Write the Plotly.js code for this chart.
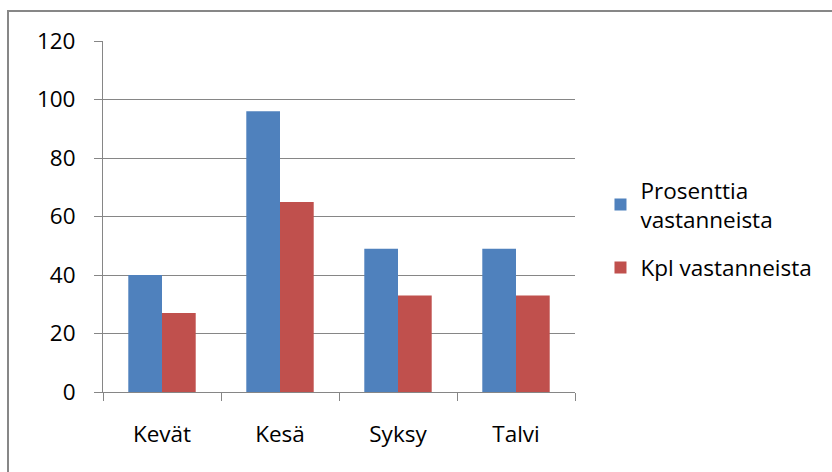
<!DOCTYPE html>
<html>
<head>
<meta charset="utf-8">
<script src="https://cdn.plot.ly/plotly-3.0.1.min.js"></script>
<style>
  html, body { margin: 0; padding: 0; background: #fff; overflow: hidden; }
  #chart { position: absolute; left: 0; top: 0; width: 832px; height: 472px; }
  /* chart-area frame, running off the right and bottom edges */
  #frame { position: absolute; left: 7px; top: 10px; width: 840px; height: 480px;
           border: 2px solid #878787; pointer-events: none; }
</style>
</head>
<body>
<div id="chart"></div>
<div id="frame"></div>
<script>
// Seasons and survey answers
const seasons = ['Kevät', 'Kesä', 'Syksy', 'Talvi'];
const percentOfRespondents = [40, 96, 49, 49];
const countOfRespondents = [27, 65, 33, 33];
const seriesNames = ['Prosenttia<br>vastanneista', 'Kpl vastanneista'];
const yTicks = [0, 20, 40, 60, 80, 100, 120];

const FONT = 'Open Sans, Noto Sans, sans-serif';
const FONT_SIZE = 22.5;
const GRID = '#868686';

const traces = [
  {
    type: 'bar', name: seriesNames[0], x: seasons, y: percentOfRespondents,
    legendgroup: 'pct', marker: { color: '#4F81BD', line: { width: 0 } }
  },
  {
    type: 'bar', name: seriesNames[1], x: seasons, y: countOfRespondents,
    legendgroup: 'kpl', marker: { color: '#C0504D', line: { width: 0 } }
  }
];

const layout = {
  width: 832, height: 472,
  margin: { l: 103, r: 257, t: 41, b: 80 },
  paper_bgcolor: '#fff', plot_bgcolor: '#fff',
  font: { family: FONT, size: FONT_SIZE, color: '#000' },
  barmode: 'group', bargap: 0.4286, bargroupgap: 0,
  showlegend: true,
  legend: {
    x: 1.054, xanchor: 'left', y: 0.636, yanchor: 'top',
    traceorder: 'grouped', tracegroupgap: 16,
    font: { family: FONT, size: FONT_SIZE, color: '#000' },
    bgcolor: 'rgba(0,0,0,0)'
  },
  xaxis: {
    type: 'category', tickson: 'boundaries', ticks: 'outside', ticklen: 8,
    tickcolor: GRID, tickwidth: 1, showline: true, linecolor: GRID, linewidth: 1,
    showgrid: false, ticklabelstandoff: 22,
    tickfont: { family: FONT, size: FONT_SIZE, color: '#000' }
  },
  yaxis: {
    range: [0, 120], tickvals: yTicks, ticktext: yTicks.map(String),
    ticks: 'outside', ticklen: 8, tickcolor: GRID, tickwidth: 1,
    showline: true, linecolor: GRID, linewidth: 1,
    showgrid: true, gridcolor: GRID, gridwidth: 1, zeroline: false,
    ticklabelstandoff: 14,
    tickfont: { family: FONT, size: FONT_SIZE, color: '#000' }
  }
};

Plotly.newPlot('chart', traces, layout, { staticPlot: true, displayModeBar: false });
</script>
</body>
</html>
